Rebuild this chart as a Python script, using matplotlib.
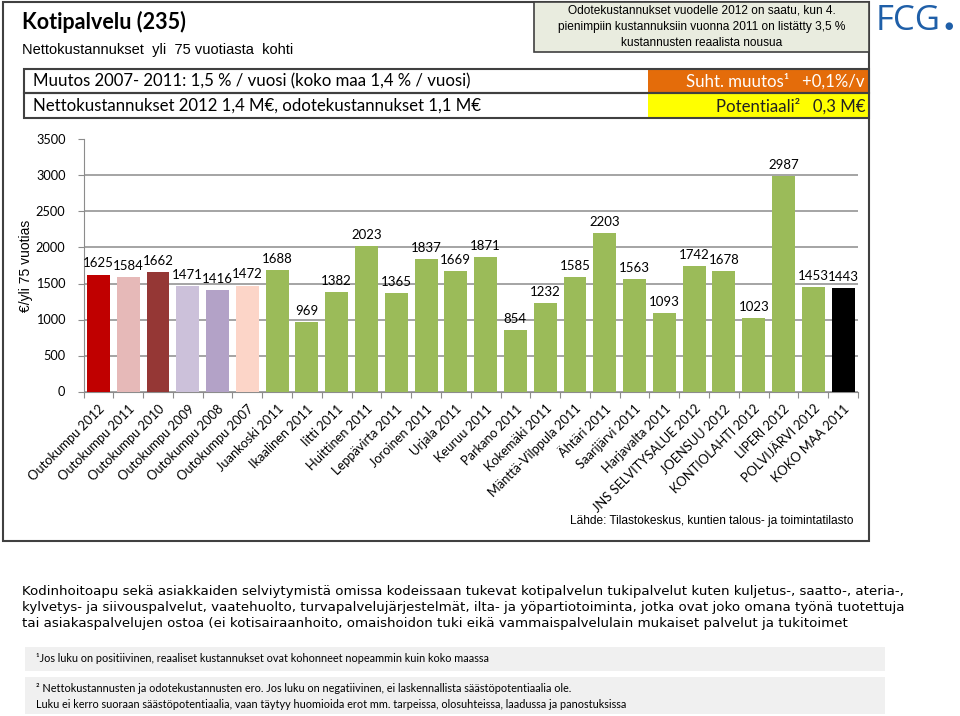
import matplotlib
matplotlib.use("Agg")
import matplotlib.pyplot as plt
from matplotlib.patches import Rectangle

W, H = 960, 716

municipalities = ["Outokumpu 2012", "Outokumpu 2011", "Outokumpu 2010", "Outokumpu 2009",
                  "Outokumpu 2008", "Outokumpu 2007", "Juankoski 2011", "Ikaalinen 2011",
                  "Iitti 2011", "Huittinen 2011", "Leppävirta 2011", "Joroinen 2011",
                  "Urjala 2011", "Keuruu 2011", "Parkano 2011", "Kokemäki 2011",
                  "Mänttä-Vilppula 2011", "Ähtäri 2011", "Saarijärvi 2011", "Harjavalta 2011",
                  "JNS SELVITYSALUE 2012", "JOENSUU 2012", "KONTIOLAHTI 2012", "LIPERI 2012",
                  "POLVIJÄRVI 2012", "KOKO MAA 2011"]
cost_per_75 = [1625, 1584, 1662, 1471, 1416, 1472, 1688, 969, 1382, 2023, 1365, 1837,
               1669, 1871, 854, 1232, 1585, 2203, 1563, 1093, 1742, 1678, 1023, 2987,
               1453, 1443]
outokumpu_colors = ["#c00000", "#e6b9b8", "#953735", "#ccc1da", "#b3a2c7", "#fcd5c8"]
green = "#9bbb59"
bar_colors = outokumpu_colors + [green] * 19 + ["#000000"]
yticks = [0, 500, 1000, 1500, 2000, 2500, 3000, 3500]

CAL = ["Lato", "DejaVu Sans"]
ARI = ["Liberation Sans", "DejaVu Sans"]


def fx(x):
    return x / W


def fy(y):
    return 1 - y / H


def rect(fig, x0, y0, x1, y1, fc="none", ec="#404040", lw=1.2, z=1):
    fig.patches.append(Rectangle((fx(x0), fy(y1)), fx(x1) - fx(x0), fy(y0) - fy(y1),
                                 transform=fig.transFigure, facecolor=fc, edgecolor=ec,
                                 linewidth=lw, zorder=z))


fig = plt.figure(figsize=(W / 100, H / 100), dpi=100)
fig.patch.set_facecolor("white")

# outer frame and header boxes
rect(fig, 3, 2, 869, 541, lw=1.5)
rect(fig, 534, 2, 869, 52, fc="#e9ecdf", lw=1.2, z=2)
rect(fig, 648, 69, 869, 93, fc="#e46c0a", ec="none", z=2)
rect(fig, 648, 93, 869, 118, fc="#ffff00", ec="none", z=2)
rect(fig, 24, 69, 869, 93, lw=1.5, z=3)
rect(fig, 24, 93, 869, 118, lw=1.5, z=3)

fig.text(fx(22), fy(22), "Kotipalvelu (235)", fontsize=15.5, fontweight="bold",
         family=CAL, va="center")
fig.text(fx(22), fy(50), "Nettokustannukset  yli  75 vuotiasta  kohti", fontsize=10.5,
         family=ARI, va="center")
fig.text(fx(33), fy(81), "Muutos 2007- 2011: 1,5 % / vuosi (koko maa 1,4 % / vuosi)",
         fontsize=12.1, family=CAL, va="center")
fig.text(fx(33), fy(106), "Nettokustannukset 2012 1,4 M€, odotekustannukset 1,1 M€",
         fontsize=12.1, family=CAL, va="center")
fig.text(fx(865), fy(81), "Suht. muutos¹   +0,1%/v", fontsize=12.1, family=CAL,
         va="center", ha="right", color="white", zorder=5)
fig.text(fx(865), fy(106), "Potentiaali²   0,3 M€", fontsize=12.1, family=CAL,
         va="center", ha="right", color="#222222", zorder=5)
fig.text(fx(702), fy(27), "Odotekustannukset vuodelle 2012 on saatu, kun 4.\n"
         "pienimpiin kustannuksiin vuonna 2011 on listätty 3,5 %\n"
         "kustannusten reaalista nousua", fontsize=8.6, family=ARI, ha="center",
         va="center", linespacing=1.45, zorder=5)

# logo
fig.text(fx(876), fy(21), "FCG", fontsize=25, family=["Open Sans", "DejaVu Sans"],
         color="#1f5fa8", va="center")
fig.text(fx(944), fy(26), "●", fontsize=7, color="#1f5fa8", va="center")

# chart
ax = fig.add_axes([fx(83.5), fy(391.5), fx(858) - fx(83.5), fy(139.5) - fy(391.5)])
x = list(range(len(municipalities)))
ax.bar(x, cost_per_75, width=0.77, color=bar_colors, zorder=3)
for xi, v in zip(x, cost_per_75):
    ax.text(xi, v + 70, str(v), ha="center", va="bottom", fontsize=9.5, family=CAL,
            zorder=4)
ax.set_xlim(-0.5, len(municipalities) - 0.5)
ax.set_ylim(0, 3500)
ax.set_yticks(yticks)
ax.set_yticklabels([str(t) for t in yticks], fontsize=9.2, family=CAL)
ax.yaxis.grid(True, color="#8c8c8c", linewidth=1.1, zorder=0)
ax.set_xticks([i - 0.5 for i in range(len(municipalities) + 1)], minor=False)
ax.set_xticklabels([])
ax.set_xticks(x, minor=True)
ax.set_xticklabels(municipalities, minor=True, rotation=45, ha="right",
                   rotation_mode="anchor", fontsize=9.3, family=CAL)
ax.tick_params(axis="x", which="minor", length=0, pad=8)
ax.tick_params(axis="x", which="major", length=4, color="#8c8c8c")
ax.tick_params(axis="y", length=4, color="#8c8c8c", pad=9)
for s in ["top", "right"]:
    ax.spines[s].set_visible(False)
ax.spines["left"].set_color("#8c8c8c")
ax.spines["bottom"].set_color("#8c8c8c")
ax.set_ylabel("€/yli 75 vuotias", fontsize=10, family=ARI, labelpad=2)

fig.text(fx(853), fy(521), "Lähde: Tilastokeskus, kuntien talous- ja toimintatilasto",
         fontsize=8.6, family=ARI, ha="right", va="center")

# description
desc = ("Kodinhoitoapu sekä asiakkaiden selviytymistä omissa kodeissaan tukevat kotipalvelun "
        "tukipalvelut kuten kuljetus-, saatto-, ateria-,\n"
        "kylvetys- ja siivouspalvelut, vaatehuolto, turvapalvelujärjestelmät, ilta- ja "
        "yöpartiotoiminta, jotka ovat joko omana työnä tuotettuja\n"
        "tai asiakaspalvelujen ostoa (ei kotisairaanhoito, omaishoidon tuki eikä "
        "vammaispalvelulain mukaiset palvelut ja tukitoimet")
fig.text(fx(22), fy(607), desc, fontsize=9.6, family=["DejaVu Sans"], va="center",
         linespacing=1.3)

rect(fig, 25, 647, 885, 671, fc="#f0f0f0", ec="none")
rect(fig, 25, 677, 885, 714, fc="#f0f0f0", ec="none")
fig.text(fx(36), fy(659), "¹Jos luku on positiivinen, reaaliset kustannukset ovat kohonneet "
         "nopeammin kuin koko maassa", fontsize=7.8, family=CAL, va="center")
fig.text(fx(36), fy(689), "² Nettokustannusten ja odotekustannusten ero. Jos luku on "
         "negatiivinen, ei laskennallista säästöpotentiaalia ole.", fontsize=7.8,
         family=CAL, va="center")
fig.text(fx(36), fy(704), "Luku ei kerro suoraan säästöpotentiaalia, vaan täytyy huomioida "
         "erot mm. tarpeissa, olosuhteissa, laadussa ja panostuksissa", fontsize=7.8,
         family=CAL, va="center")

fig.savefig("out.png", dpi=100)
